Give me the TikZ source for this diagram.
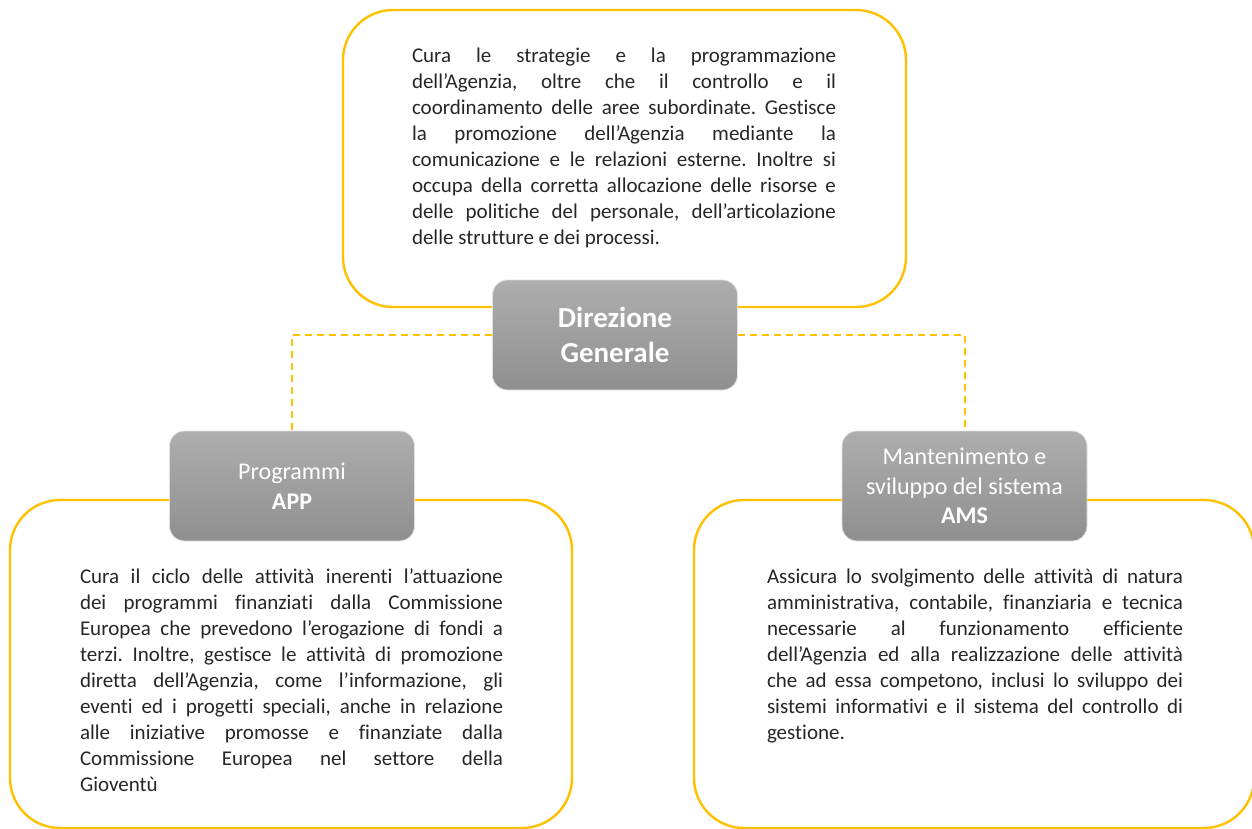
\documentclass[tikz,border=0pt]{standalone}
\usepackage{fontspec}
\setmainfont{Carlito}[Ligatures={TeX,NoCommon}]
\usepackage{tikz}

\definecolor{linegold}{HTML}{FFC000}
\definecolor{unittop}{HTML}{AEAEAE}
\definecolor{unitbot}{HTML}{8F8F8F}
\definecolor{bodytext}{HTML}{262626}

\begin{document}
\begin{tikzpicture}[x=0.5pt, y=-0.5pt,
    frame/.style={draw=linegold, line width=1.2pt, rounded corners=25pt},
    unit/.style={draw=black!12, line width=0.4pt, rounded corners=7.5pt, top color=unittop, bottom color=unitbot, text=white, align=center, minimum width=122.5pt, minimum height=55pt, inner sep=0pt, font=\fontsize{12}{14.8}\selectfont},
    desc/.style={text=bodytext, align=justify, inner sep=0pt, font=\fontsize{10.5}{13}\selectfont, execute at begin node={\frenchspacing\tolerance=10000 \hyphenpenalty=10000 }},
    link/.style={draw=linegold, line width=1pt, dash pattern=on 3.5pt off 2.5pt}]
    \path [use as bounding box, clip] (0, 0) rectangle (1252, 829);

    \node [frame, minimum width=281.5pt, minimum height=148.5pt] (dgframe) at (624.5, 158.5) {};
    \node [frame, minimum width=281pt, minimum height=164pt] (appframe) at (291, 664) {};
    \node [frame, minimum width=280pt, minimum height=164pt] (amsframe) at (974, 664) {};

    \node [desc, text width=212pt] (dgtext) at (624, 148) {Cura le strategie e la programmazione\linebreak
        dell’Agenzia, oltre che il controllo e il\linebreak
        coordinamento delle aree subordinate. Gestisce\linebreak
        la promozione dell’Agenzia mediante la\linebreak
        comunicazione e le relazioni esterne. Inoltre si\linebreak
        occupa della corretta allocazione delle risorse e\linebreak
        delle politiche del personale, dell’articolazione\linebreak
        delle strutture e dei processi.};
    \node [desc, text width=211.5pt] (apptext) at (291.5, 680) {Cura il ciclo delle attività inerenti l’attuazione\linebreak
        dei programmi finanziati dalla Commissione\linebreak
        Europea che prevedono l’erogazione di fondi a\linebreak
        terzi. Inoltre, gestisce le attività di promozione\linebreak
        diretta dell’Agenzia, come l’informazione, gli\linebreak
        eventi ed i progetti speciali, anche in relazione\linebreak
        alle iniziative promosse e finanziate dalla\linebreak
        Commissione Europea nel settore della\linebreak
        Gioventù};
    \node [desc, text width=208pt] (amstext) at (975, 656.5) {Assicura lo svolgimento delle attività di natura\linebreak
        amministrativa, contabile, finanziaria e tecnica\linebreak
        necessarie al funzionamento efficiente\linebreak
        dell’Agenzia ed alla realizzazione delle attività\linebreak
        che ad essa competono, inclusi lo sviluppo dei\linebreak
        sistemi informativi e il sistema del controllo di\linebreak
        gestione.};

    \node [unit, font=\fontsize{14.5}{17.5}\selectfont\bfseries] (dg) at (615, 335) {Direzione\\Generale};
    \node [unit] (app) at (292, 486) {Programmi\\\textbf{APP}};
    \node [unit] (ams) at (964.5, 486) {Mantenimento e\\sviluppo del sistema\\\textbf{AMS}};

    \draw [link] (dg) -| (app);
    \draw [link] (dg) -| (ams);
\end{tikzpicture}
\end{document}
